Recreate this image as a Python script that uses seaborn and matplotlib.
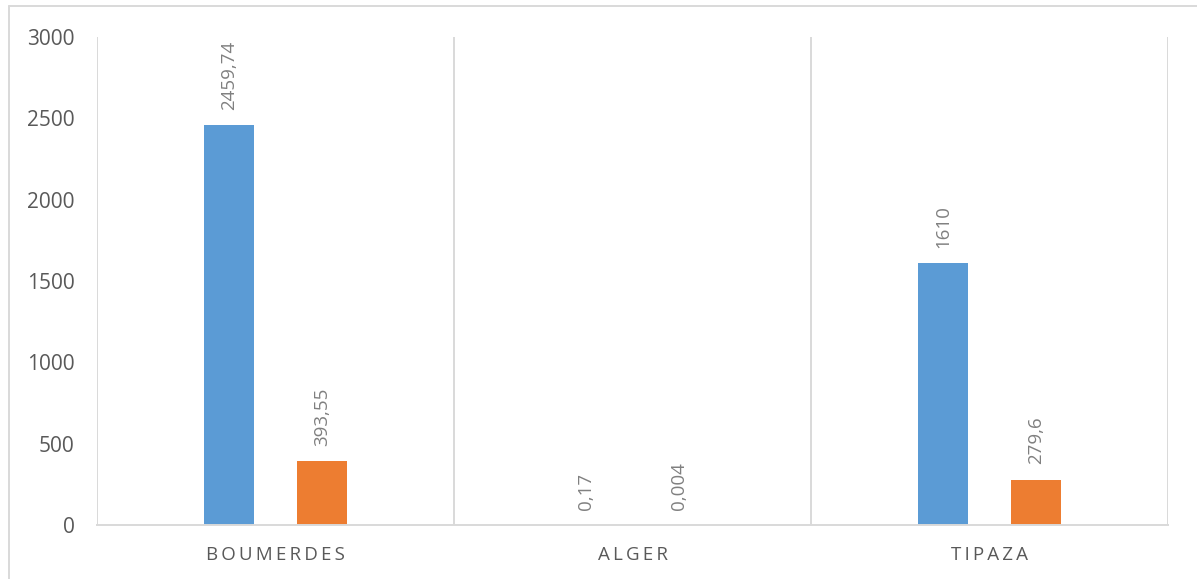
import matplotlib
matplotlib.use("Agg")
import matplotlib.pyplot as plt
from matplotlib.lines import Line2D
import pandas as pd
import seaborn as sns

# Chart data
categories = ["BOUMERDES", "ALGER", "TIPAZA"]
series_names = ["Série 1", "Série 2"]
series_1 = [2459.74, 0.17, 1610]
series_2 = [393.55, 0.004, 279.6]
y_ticks = [0, 500, 1000, 1500, 2000, 2500, 3000]

colors = ["#5B9BD5", "#ED7D31"]
grid_gray = "#D9D9D9"
text_gray = "#595959"
label_gray = "#808080"

sns.set_theme(style="white")
plt.rcParams["font.family"] = ["Open Sans", "DejaVu Sans"]

df = pd.DataFrame({
    "categorie": categories * 2,
    "serie": [series_names[0]] * len(categories) + [series_names[1]] * len(categories),
    "valeur": series_1 + series_2,
})

fig = plt.figure(figsize=(11.97, 5.79), dpi=100)
ax = fig.add_axes([97 / 1197, 1 - 525 / 579, (1168 - 97) / 1197, (525 - 37) / 579])

sns.barplot(data=df, x="categorie", y="valeur", hue="serie",
            order=categories, hue_order=series_names, palette=colors,
            width=0.521, gap=0.473, saturation=1, linewidth=0,
            legend=False, ax=ax, zorder=3)

ax.set_xlim(-0.5, len(categories) - 0.5)
ax.set_ylim(0, 3000)

# value labels above each bar, decimal comma
for container, values in zip(ax.containers, [series_1, series_2]):
    labels = [f"{v:g}".replace(".", ",") for v in values]
    ax.bar_label(container, labels=labels, rotation=90, padding=11,
                 color=label_gray, fontsize=13.5)

# axes styling
for side in ["top", "right", "left"]:
    ax.spines[side].set_visible(False)
ax.spines["bottom"].set_color(grid_gray)
ax.spines["bottom"].set_linewidth(1.4)
ax.spines["bottom"].set_zorder(4)

ax.set_yticks(y_ticks)
ax.set_yticklabels([str(t) for t in y_ticks])
ax.tick_params(axis="y", which="major", length=0, pad=16, labelsize=15, labelcolor=text_gray)
ax.set_yticks([0, 3000], minor=True)
ax.tick_params(axis="y", which="minor", length=6, width=1.4, color=grid_gray, direction="out")

# letter-spaced category names
ax.set_xticks(range(len(categories)))
ax.set_xticklabels(["\u2009".join(c) for c in categories])
ax.tick_params(axis="x", which="major", length=0, pad=15, labelsize=13.5, labelcolor=text_gray)
ax.set_xticks([i - 0.5 for i in range(len(categories) + 1)], minor=True)
ax.tick_params(axis="x", which="minor", length=8, width=1.4, color=grid_gray, direction="out")
ax.grid(False)
ax.grid(True, axis="x", which="minor", color=grid_gray, linewidth=1.4, zorder=0)

ax.set_xlabel("")
ax.set_ylabel("")

# outer chart frame
fig.add_artist(Line2D([9 / 1197, 1.0], [1 - 6 / 579, 1 - 6 / 579],
                      color=grid_gray, linewidth=1.4, transform=fig.transFigure))
fig.add_artist(Line2D([9 / 1197, 9 / 1197], [0.0, 1 - 6 / 579],
                      color=grid_gray, linewidth=1.4, transform=fig.transFigure))

fig.savefig("out.png", dpi=100, facecolor="white")
